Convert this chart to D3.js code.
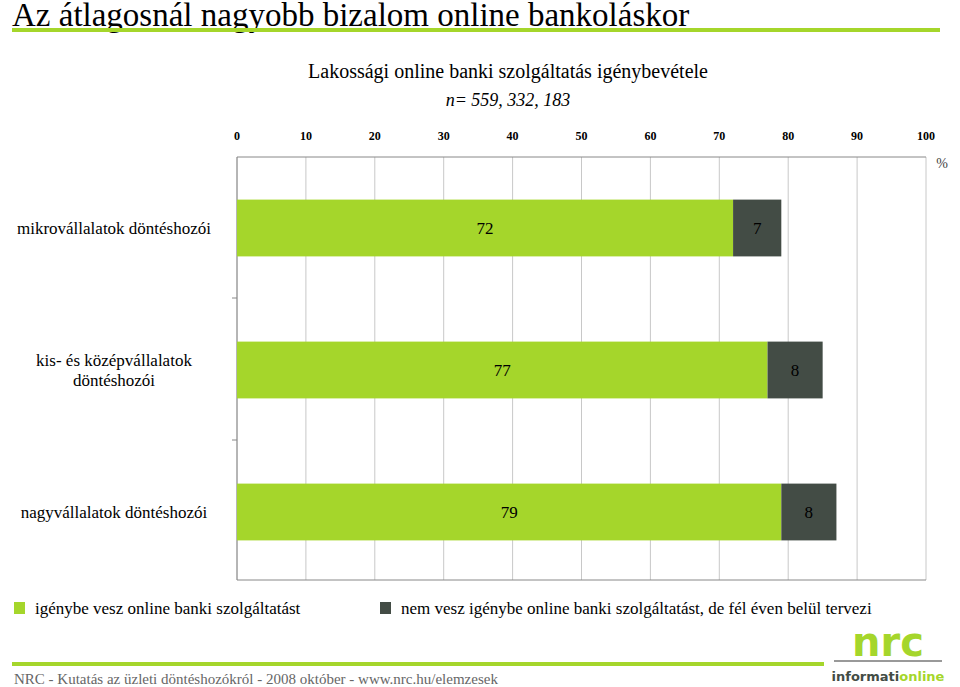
<!DOCTYPE html>
<html><head><meta charset="utf-8">
<script src="https://cdn.jsdelivr.net/npm/d3@7"></script>
<style>body{margin:0;background:#fff}svg{font-family:"Liberation Serif",serif}</style>
</head><body><svg id="c" width="960" height="687"></svg>
<script>
const categories=["mikrovállalatok döntéshozói","kis- és középvállalatok\ndöntéshozói","nagyvállalatok döntéshozói"];
const useValues=[72,77,79];
const planValues=[7,8,8];
const tickValues=[0,10,20,30,40,50,60,70,80,90,100];
const seriesNames=["igénybe vesz online banki szolgáltatást","nem vesz igénybe online banki szolgáltatást, de fél éven belül tervezi"];
const colors=["#a5d62b","#434c45"];

const svg=d3.select("#c");
svg.append("text").attr("x",12).attr("y",26).attr("font-size",33).attr("fill","#000").text("Az átlagosnál nagyobb bizalom online bankoláskor");
svg.append("rect").attr("x",12).attr("y",28).attr("width",928).attr("height",4).attr("fill","#a5d62b");
svg.append("text").attr("x",508).attr("y",78).attr("text-anchor","middle").attr("font-size",20).text("Lakossági online banki szolgáltatás igénybevétele");
svg.append("text").attr("x",508).attr("y",106).attr("text-anchor","middle").attr("font-size",18).attr("font-style","italic").text("n= 559, 332, 183");

const x=d3.scaleLinear().domain([0,100]).range([237,926]);
const y=d3.scaleBand().domain(categories).range([157,583]).paddingInner(0.6).paddingOuter(0.3);
const plotTop=157,plotBottom=580;
svg.append("g").selectAll("line").data(tickValues).join("line")
 .attr("x1",d=>x(d)).attr("x2",d=>x(d)).attr("y1",plotTop).attr("y2",plotBottom).attr("stroke","#c8c8c8");
svg.append("line").attr("x1",x(0)).attr("x2",x(100)).attr("y1",plotTop).attr("y2",plotTop).attr("stroke","#888");
svg.append("line").attr("x1",x(0)).attr("x2",x(100)).attr("y1",plotBottom).attr("y2",plotBottom).attr("stroke","#888");
svg.append("line").attr("x1",x(0)).attr("x2",x(0)).attr("y1",plotTop).attr("y2",plotBottom).attr("stroke","#888");
[298,440].forEach(v=>svg.append("line").attr("x1",232).attr("x2",237).attr("y1",v).attr("y2",v).attr("stroke","#888"));
svg.append("g").selectAll("text").data(tickValues).join("text")
 .attr("x",d=>x(d)).attr("y",140).attr("text-anchor","middle").attr("font-size",12).attr("font-weight","bold").text(d=>d);
svg.append("text").attr("x",942).attr("y",168).attr("text-anchor","middle").attr("font-size",14).attr("fill","#444").text("%");

categories.forEach((c,i)=>{
 const yy=y(c),h=y.bandwidth();
 svg.append("rect").attr("x",x(0)).attr("y",yy).attr("width",x(useValues[i])-x(0)).attr("height",h).attr("fill",colors[0]);
 svg.append("rect").attr("x",x(useValues[i])).attr("y",yy).attr("width",x(useValues[i]+planValues[i])-x(useValues[i])).attr("height",h).attr("fill",colors[1]);
 svg.append("text").attr("x",x(useValues[i]/2)).attr("y",yy+h/2+6).attr("text-anchor","middle").attr("font-size",17).text(useValues[i]);
 svg.append("text").attr("x",x(useValues[i]+planValues[i]/2)).attr("y",yy+h/2+6).attr("text-anchor","middle").attr("font-size",17).text(planValues[i]);
 const lines=c.split("\n");
 const t=svg.append("text").attr("text-anchor","middle").attr("font-size",17);
 lines.forEach((l,k)=>t.append("tspan").attr("x",114).attr("y",yy+h/2+6+(k-(lines.length-1)/2)*20).text(l));
});

const leg=[[14,seriesNames[0]],[380,seriesNames[1]]];
leg.forEach(([lx,n],i)=>{
 svg.append("rect").attr("x",lx).attr("y",602).attr("width",11).attr("height",12).attr("fill",colors[i]);
 svg.append("text").attr("x",lx+21).attr("y",614).attr("font-size",17).text(n);
});
svg.append("rect").attr("x",12).attr("y",662).attr("width",812).attr("height",4).attr("fill","#a5d62b");
svg.append("text").attr("x",14).attr("y",684).attr("font-size",15).attr("fill","#666").text("NRC - Kutatás az üzleti döntéshozókról - 2008 október - www.nrc.hu/elemzesek");
svg.append("text").attr("x",888).attr("y",656).attr("text-anchor","middle").attr("font-family","DejaVu Sans").attr("font-weight","bold").attr("font-size",40).attr("fill","#a5d62b").text("nrc");
svg.append("rect").attr("x",834).attr("y",660).attr("width",108).attr("height",2).attr("fill","#999");
const lt=svg.append("text").attr("x",888).attr("y",681).attr("text-anchor","middle").attr("font-family","DejaVu Sans").attr("font-weight","bold").attr("font-size",13);
lt.append("tspan").attr("fill","#434c45").text("informati");
lt.append("tspan").attr("fill","#a5d62b").text("online");
</script></body></html>
